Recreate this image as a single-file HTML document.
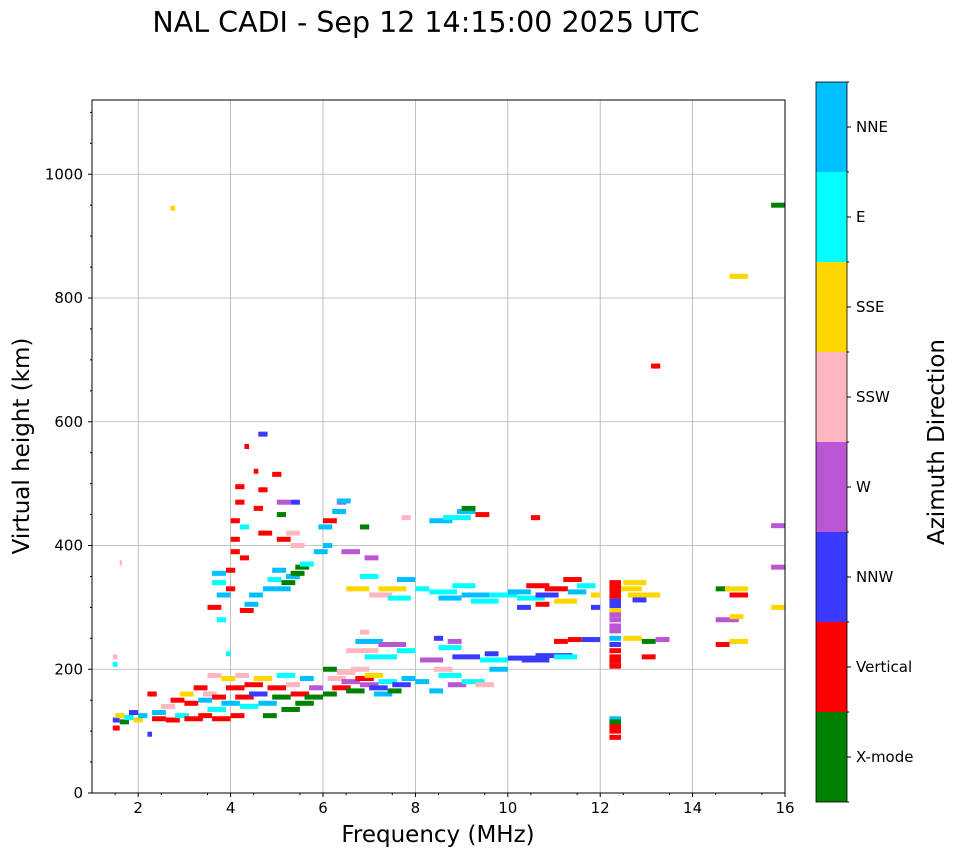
<!DOCTYPE html>
<html><head><meta charset="utf-8">
<style>
body{margin:0;background:#fff;font-family:"DejaVu Sans","Liberation Sans",sans-serif;}
svg text{font-family:"DejaVu Sans","Liberation Sans",sans-serif;}
</style></head>
<body>
<svg id="chart" width="958" height="857" xmlns="http://www.w3.org/2000/svg">
<text x="426" y="32" font-size="28.5" text-anchor="middle">NAL CADI - Sep 12 14:15:00 2025 UTC</text>
<g id="grid"></g>
<g id="marks"></g>
<rect x="92" y="100" width="693" height="693" fill="none" stroke="#000" stroke-width="1"/>
<g id="axes"></g>
<text x="438" y="842" font-size="23" text-anchor="middle">Frequency (MHz)</text>
<text transform="translate(29,446) rotate(-90)" font-size="23" text-anchor="middle">Virtual height (km)</text>
<g id="cbar"></g>
<text transform="translate(944,442) rotate(-90)" font-size="23" text-anchor="middle">Azimuth Direction</text>
</svg>
<script>
const dirNames=["X-mode","Vertical","NNW","W","SSW","SSE","E","NNE"];
const dirColors=["#008000","#ff0000","#3a3aff","#ba55d3","#ffb6c1","#ffd700","#00ffff","#00bfff"];
const xTicks=[2,4,6,8,10,12,14,16];
const yTicks=[0,200,400,600,800,1000];
// echo runs: start freq, end freq, height km, direction index
const runStart=[1.45,1.45,1.5,1.6,1.7,1.8,1.9,2.0,2.2,2.2,2.3,2.3,2.5,2.6,2.7,2.8,2.9,3.0,3.0,3.2,3.3,3.3,3.4,3.5,3.5,3.6,3.6,3.8,3.8,3.9,4.0,4.1,4.1,4.2,4.3,4.4,4.5,4.6,4.7,4.8,4.9,5.0,5.1,5.2,5.3,5.4,5.5,5.6,5.7,6.0,6.0,6.1,6.2,6.3,6.4,6.5,6.6,6.7,6.8,6.9,7.0,7.1,7.2,7.4,7.5,7.7,8.0,8.3,8.4,8.5,8.7,9.0,9.3,9.6,
6.5,6.7,6.9,7.2,6.8,7.6,8.1,8.5,8.4,8.7,
8.8,9.4,10.0,10.6,10.3,11.0,11.3,11.6,11.0,9.5,
8.3,8.5,8.8,9.0,9.2,9.6,10.0,10.2,10.4,10.6,10.8,11.0,11.2,11.3,11.5,11.8,11.8,10.2,10.6,7.0,7.2,7.4,7.6,8.0,6.5,6.8,
8.3,8.6,8.9,9.3,9.0,10.5,7.7,
3.6,3.6,3.7,3.5,3.7,3.9,3.9,4.0,4.0,4.0,4.1,4.1,4.2,4.2,4.2,4.3,4.4,4.3,4.5,4.6,4.6,4.5,4.6,4.7,4.8,4.9,5.0,5.1,5.2,5.3,5.4,5.5,5.0,5.2,5.3,5.0,5.3,4.9,5.0,5.8,5.9,6.0,6.2,6.3,6.0,6.4,6.9,6.8,
12.2,12.2,12.2,12.2,12.2,12.2,12.2,12.2,12.2,12.2,12.2,12.2,12.2,12.2,12.2,12.45,12.5,12.6,12.9,12.5,12.9,13.2,13.1,12.7,
14.5,14.7,14.8,14.5,14.8,14.5,14.8,14.8,15.7,15.7,15.7,15.7,2.7,1.6,1.45,1.45,3.9,6.3,
12.2,12.2,12.2,12.2,12.2,12.2,12.2,12.2];
const runEnd=[1.6,1.6,1.7,1.8,1.9,2.0,2.1,2.2,2.4,2.3,2.6,2.6,2.8,2.9,3.0,3.1,3.2,3.3,3.4,3.5,3.6,3.6,3.7,3.8,3.9,4.0,3.9,4.1,4.2,4.3,4.3,4.4,4.5,4.6,4.7,4.8,4.9,5.0,5.0,5.2,5.3,5.4,5.5,5.5,5.7,5.8,5.8,6.0,6.0,6.3,6.3,6.5,6.6,6.7,6.8,6.9,7.0,7.1,7.2,7.3,7.4,7.5,7.6,7.7,7.9,8.0,8.3,8.6,8.8,9.0,9.1,9.5,9.7,10.0,
7.2,7.3,7.6,7.8,7.0,8.0,8.6,9.0,8.6,9.0,
9.4,10.0,10.6,11.4,10.9,11.5,11.6,12.0,11.3,9.8,
8.9,9.0,9.3,9.6,9.8,10.2,10.5,10.8,10.9,11.1,11.3,11.5,11.6,11.7,11.9,12.0,12.0,10.5,10.9,7.5,7.8,7.9,8.0,8.3,7.0,7.2,
8.8,9.2,9.3,9.6,9.3,10.7,7.9,
3.9,3.9,4.0,3.8,3.9,4.1,4.1,4.2,4.2,4.2,4.3,4.3,4.4,4.4,4.5,4.6,4.7,4.4,4.6,4.8,4.8,4.7,4.9,5.0,5.1,5.2,5.3,5.4,5.5,5.6,5.7,5.8,5.3,5.5,5.6,5.2,5.5,5.1,5.3,6.1,6.2,6.3,6.5,6.5,6.2,6.8,7.2,7.0,
12.45,12.45,12.45,12.45,12.45,12.45,12.45,12.45,12.45,12.45,12.45,12.45,12.45,12.45,12.45,12.9,13.0,13.3,13.2,12.9,13.2,13.5,13.3,13.0,
14.8,15.2,15.2,15.0,15.1,14.8,15.2,15.2,16,16,16,16,2.8,1.65,1.55,1.55,4.0,6.6,
12.45,12.45,12.45,12.45,12.45,12.45,12.45,12.45];
const runHeight=[105,118,125,115,122,130,118,125,160,95,130,120,140,118,150,125,160,145,120,170,150,125,160,190,135,120,155,185,145,170,125,190,155,140,175,160,185,145,125,170,155,190,135,175,160,145,185,155,170,160,200,185,170,195,180,165,200,185,175,190,170,160,180,165,175,185,180,165,200,190,175,180,175,200,
230,245,220,240,260,230,215,235,250,245,
220,215,218,222,215,220,248,248,245,225,
325,315,335,320,310,320,325,315,335,320,330,310,345,325,335,320,300,300,305,320,330,315,345,330,330,350,
440,445,455,450,460,445,445,
355,340,320,300,280,330,360,390,410,440,470,495,430,380,295,305,320,560,520,580,490,460,420,330,345,360,330,340,350,355,365,370,410,420,400,450,470,515,470,390,430,440,455,470,400,390,380,430,
340,325,310,295,280,270,250,240,230,220,205,120,110,100,90,330,340,320,220,250,245,248,690,312,
330,330,320,280,285,240,245,835,950,432,365,300,945,372,220,208,225,472,
333,318,303,288,262,213,115,105];
const runDir=[1,2,5,0,6,2,5,7,1,2,7,1,4,1,1,6,5,1,1,1,7,1,4,4,6,1,1,5,7,1,1,4,1,6,1,2,5,7,0,1,0,6,0,4,1,0,7,0,3,0,0,4,1,4,3,0,4,1,3,5,2,7,6,0,2,7,7,7,4,6,3,6,4,7,
4,7,6,3,4,6,3,6,2,3,
2,6,2,2,2,6,1,2,1,2,
6,7,6,7,6,6,7,6,1,2,1,5,1,7,6,5,2,2,1,4,5,6,7,6,5,6,
7,6,7,1,0,1,4,
7,6,7,1,6,1,1,1,1,1,1,1,6,1,1,7,7,1,1,2,1,1,1,7,6,7,7,0,7,0,0,6,1,4,4,0,2,1,3,7,7,1,7,3,7,3,3,0,
1,1,2,5,3,3,7,2,1,1,1,7,1,1,1,5,5,5,1,5,0,3,1,2,
0,5,1,3,5,1,5,5,0,3,3,5,5,4,4,6,6,7,
1,1,2,3,3,1,0,1];

const NS="http://www.w3.org/2000/svg";
const X0=92,X1=785,Y0=793,Y1=100,FMIN=1,FMAX=16,HMIN=0,HMAX=1120;
function xs(f){return X0+(f-FMIN)/(FMAX-FMIN)*(X1-X0);}
function ys(h){return Y0-(h-HMIN)/(HMAX-HMIN)*(Y0-Y1);}
function mk(tag,attrs,parent){const e=document.createElementNS(NS,tag);for(const k in attrs)e.setAttribute(k,attrs[k]);parent.appendChild(e);return e;}
const grid=document.getElementById('grid'),axes=document.getElementById('axes'),marks=document.getElementById('marks'),cbar=document.getElementById('cbar');
xTicks.forEach(t=>{const x=xs(t);
 const g=mk('line',{x1:x,x2:x,y1:Y1,y2:Y0,stroke:'#b0b0b0','stroke-width':0.8},grid);
 
 
 mk('line',{x1:x,x2:x,y1:Y0,y2:Y0+4,stroke:'#000'},axes);
 const tx=mk('text',{x:x,y:Y0+20,'font-size':15,'text-anchor':'middle'},axes);tx.textContent=t;
 
 
});
for(let f=1.5;f<16;f+=1){const x=xs(f);mk('line',{x1:x,x2:x,y1:Y0,y2:Y0+2,stroke:'#000'},axes);}
yTicks.forEach(t=>{const y=ys(t);
 const g=mk('line',{x1:X0,x2:X1,y1:y,y2:y,stroke:'#b0b0b0','stroke-width':0.8},grid);
 
 
 mk('line',{x1:X0-4,x2:X0,y1:y,y2:y,stroke:'#000'},axes);
 const tx=mk('text',{x:X0-9,y:y+5,'font-size':15,'text-anchor':'end'},axes);tx.textContent=t;
 
 
});
for(let h=50;h<1120;h+=50){if(h%200===0)continue;const y=ys(h);mk('line',{x1:X0-2,x2:X0,y1:y,y2:y,stroke:'#000'},axes);}
for(let i=0;i<runStart.length;i++){
 const x0=xs(runStart[i]),x1=xs(runEnd[i]),y=ys(runHeight[i]);
 const r=mk('rect',{x:x0,y:y-2.5,width:Math.max(2,x1-x0),height:5,fill:dirColors[runDir[i]]},marks);
 
 
}
const CB0=82,CB1=802,CX=816,CW=31,n=dirNames.length,bh=(CB1-CB0)/n;
dirNames.forEach((d,i)=>{const y=CB1-(i+1)*bh;
 const r=mk('rect',{x:CX,y:y,width:CW,height:bh,fill:dirColors[i]},cbar);
 
 
 mk('line',{x1:CX+CW,x2:CX+CW+4,y1:y+bh/2,y2:y+bh/2,stroke:'#000'},cbar);
 const t=mk('text',{x:CX+CW+9,y:y+bh/2+5,'font-size':15},cbar);t.textContent=d;
 
 
});
for(let i=0;i<=n;i++){const y=CB1-i*bh;mk('line',{x1:CX+CW,x2:CX+CW+2,y1:y,y2:y,stroke:'#000'},cbar);}
mk('rect',{x:CX,y:CB0,width:CW,height:CB1-CB0,fill:'none',stroke:'#000','stroke-width':0.8},cbar);
</script>
</body></html>
